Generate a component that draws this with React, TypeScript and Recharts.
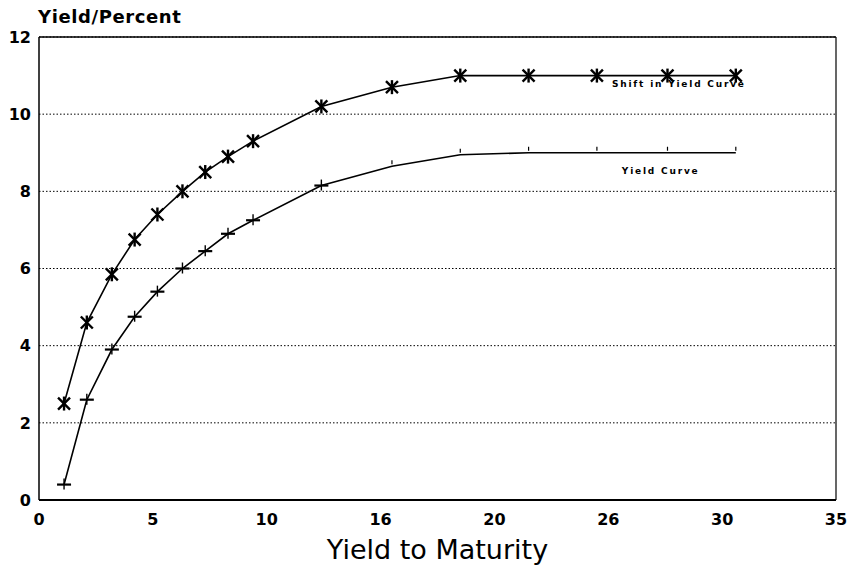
import { CartesianGrid, Line, LineChart, ReferenceDot, ReferenceLine, XAxis, YAxis } from "recharts";

const maturity = [1.1, 2.1, 3.2, 4.2, 5.2, 6.3, 7.3, 8.3, 9.4, 12.4, 15.5, 18.5, 21.5, 24.5, 27.6, 30.6];
const shiftedCurve = [2.5, 4.6, 5.85, 6.75, 7.4, 8.0, 8.5, 8.9, 9.3, 10.2, 10.7, 11.0, 11.0, 11.0, 11.0, 11.0];
const yieldCurve = [0.4, 2.6, 3.9, 4.75, 5.4, 6.0, 6.45, 6.9, 7.25, 8.15, 8.65, 8.95, 9.0, 9.0, 9.0, 9.0];

const xTicks = [0, 5, 10, 15, 20, 25, 30, 35];
const xTickLabels = ["0", "5", "10", "16", "20", "26", "30", "35"];
const yTicks = [0, 2, 4, 6, 8, 10, 12];

const data = maturity.map((m, i) => ({ m, shift: shiftedCurve[i], base: yieldCurve[i] }));

const tickFont = { fill: "#000", fontSize: 16, fontWeight: 700, fontFamily: "DejaVu Sans" };

function Star(props: any) {
  const { cx, cy } = props;
  if (cx == null || cy == null) return null;
  const r = 6;
  return (
    <g stroke="#000" strokeWidth={2.4}>
      <line x1={cx - r} y1={cy - r} x2={cx + r} y2={cy + r} />
      <line x1={cx - r} y1={cy + r} x2={cx + r} y2={cy - r} />
      <line x1={cx} y1={cy - r - 1} x2={cx} y2={cy + r + 1} />
    </g>
  );
}

function Plus(props: any) {
  const { cx, cy, payload } = props;
  if (cx == null || cy == null) return null;
  if (payload && payload.m > 15) {
    return <line x1={cx} y1={cy - 6} x2={cx} y2={cy - 2} stroke="#000" strokeWidth={1.2} />;
  }
  return (
    <g stroke="#000">
      <line x1={cx - 7} y1={cy} x2={cx + 7} y2={cy} strokeWidth={2.2} />
      <line x1={cx} y1={cy - 6} x2={cx} y2={cy + 5} strokeWidth={1.4} />
    </g>
  );
}

const seriesLabel = { fill: "#000", fontSize: 9, fontWeight: 700, fontFamily: "DejaVu Sans", letterSpacing: 1.8 };

export default function App() {
  return (
    <div style={{ position: "absolute", left: 0, top: 0, width: 863, height: 578, background: "#fff" }}>
      <div style={{ position: "absolute", left: 38, top: 6, fontFamily: "DejaVu Sans", fontWeight: 700, fontSize: 18, letterSpacing: 0.6, color: "#000" }}>
        Yield/Percent
      </div>
      <LineChart width={863} height={578} data={data} margin={{ top: 37, right: 27, left: 0, bottom: 48 }}>
        <CartesianGrid horizontal vertical={false} stroke="#000" strokeDasharray="1.5 2" />
        <XAxis
          dataKey="m"
          type="number"
          domain={[0, 35]}
          ticks={xTicks}
          tickFormatter={(v: number) => xTickLabels[xTicks.indexOf(v)] ?? String(v)}
          tick={tickFont}
          tickLine={false}
          tickSize={0}
          tickMargin={14}
          height={30}
          axisLine={{ stroke: "#000", strokeWidth: 2 }}
          label={{ value: "Yield to Maturity", position: "bottom", offset: 10, fill: "#000", fontSize: 27, fontFamily: "DejaVu Sans" }}
        />
        <YAxis
          type="number"
          domain={[0, 12]}
          ticks={yTicks}
          tick={tickFont}
          tickLine={false}
          tickSize={0}
          tickMargin={8}
          width={39}
          axisLine={{ stroke: "#000", strokeWidth: 1.5 }}
        />
        <ReferenceLine y={12} stroke="#000" strokeWidth={1.5} />
        <ReferenceLine x={35} stroke="#000" strokeWidth={1.2} />
        <Line type="linear" dataKey="shift" stroke="#000" strokeWidth={1.6} dot={<Star />} isAnimationActive={false} />
        <Line type="linear" dataKey="base" stroke="#000" strokeWidth={1.6} dot={<Plus />} isAnimationActive={false} />
        <ReferenceDot x={28.1} y={11} r={0} label={{ value: "Shift in Yield Curve", position: "bottom", offset: 5, ...seriesLabel }} />
        <ReferenceDot x={27.3} y={9} r={0} label={{ value: "Yield Curve", position: "bottom", offset: 15, ...seriesLabel }} />
      </LineChart>
    </div>
  );
}
